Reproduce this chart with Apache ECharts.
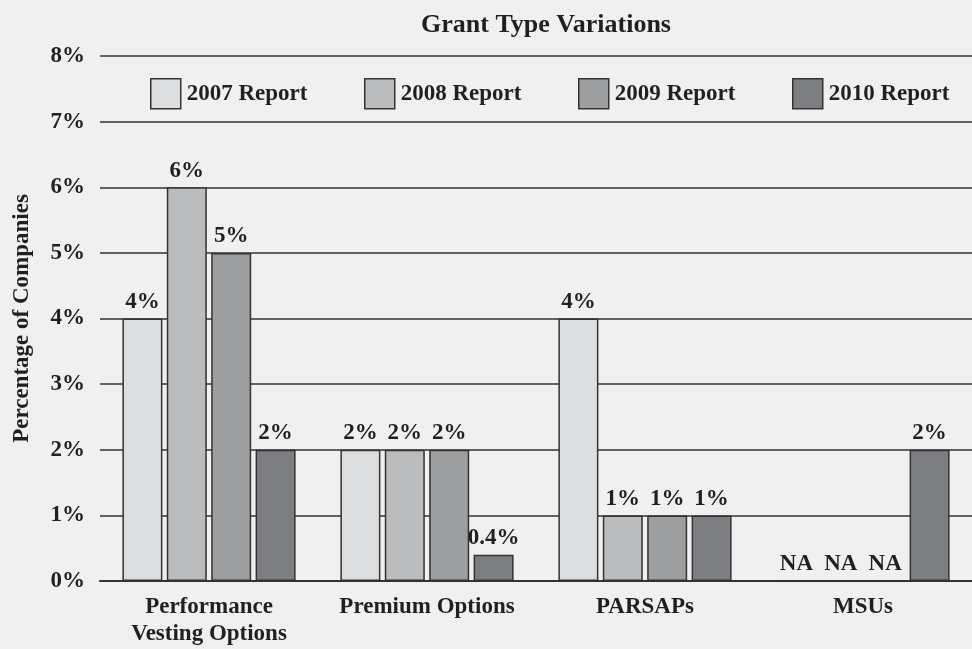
<!DOCTYPE html>
<html>
<head>
<meta charset="utf-8">
<script src="https://cdn.jsdelivr.net/npm/echarts@6/dist/echarts.min.js"></script>
<style>
html, body { margin: 0; padding: 0; background: #f0f0f0; }
#main { width: 972px; height: 649px; }
</style>
</head>
<body>
<div id="main"></div>
<script>
var categories = ['Performance\nVesting Options', 'Premium Options', 'PARSAPs', 'MSUs'];
var seriesNames = ['2007 Report', '2008 Report', '2009 Report', '2010 Report'];
// null = NA
var r2007 = [4, 2, 4, null];
var r2008 = [6, 2, 1, null];
var r2009 = [5, 2, 1, null];
var r2010 = [2, 0.4, 1, 2];
var yTicks = [0, 1, 2, 3, 4, 5, 6, 7, 8];

var colors = ['#dcdddf', '#bbbcbe', '#9d9ea0', '#7d7e81'];
var legendLeft = [145, 359, 573, 787];
var FONT = '"Liberation Serif", "DejaVu Serif", serif';
var TXT = '#231f20';
var FS = 23;

var dom = document.getElementById('main');
var myChart = echarts.init(dom);

function makeSeries(name, values, idx) {
    return {
        name: name,
        type: 'bar',
        barWidth: 40,
        barGap: '11%',
        data: values.map(function (v) {
            return v === null ? { value: 0, na: true } : v;
        }),
        itemStyle: {
            color: colors[idx],
            borderColor: '#333',
            borderWidth: 1.5
        },
        label: {
            show: true,
            position: 'top',
            distance: 5,
            fontFamily: FONT,
            fontWeight: 'bold',
            fontSize: FS,
            color: TXT,
            formatter: function (p) {
                if (p.data && p.data.na) return 'NA';
                return p.value + '%';
            }
        }
    };
}

// one legend per series so each item sits where it does in the original
var legends = seriesNames.map(function (n, i) {
    return {
        data: [n],
        left: legendLeft[i],
        top: 73,
        itemWidth: 30,
        itemHeight: 30,
        icon: 'rect',
        itemStyle: {
            borderColor: '#333',
            borderWidth: 1.5
        },
        textStyle: {
            fontFamily: FONT,
            fontWeight: 'bold',
            fontSize: FS,
            color: TXT,
            padding: [0, 0, 0, 1]
        }
    };
});

var option = {
    backgroundColor: '#f0f0f0',
    animation: false,
    title: {
        text: 'Grant Type Variations',
        left: 541,
        top: 7,
        textAlign: 'center',
        textStyle: {
            fontFamily: FONT,
            fontWeight: 'bold',
            fontSize: 26,
            color: TXT
        }
    },
    legend: legends,
    grid: {
        left: 100,
        right: 0,
        top: 56,
        bottom: 68,
        containLabel: false,
        outerBoundsMode: 'none'
    },
    xAxis: {
        type: 'category',
        data: categories,
        axisTick: { show: false },
        axisLine: { lineStyle: { color: '#333', width: 2 } },
        axisLabel: {
            interval: 0,
            margin: 13,
            fontFamily: FONT,
            fontWeight: 'bold',
            fontSize: FS,
            lineHeight: 27,
            color: TXT
        }
    },
    yAxis: {
        type: 'value',
        min: yTicks[0],
        max: yTicks[yTicks.length - 1],
        interval: 1,
        name: 'Percentage of Companies',
        nameLocation: 'middle',
        nameGap: 66,
        nameTextStyle: {
            fontFamily: FONT,
            fontWeight: 'bold',
            fontSize: FS,
            color: TXT
        },
        axisLine: { show: false },
        axisTick: { show: false },
        splitLine: { lineStyle: { color: '#333', width: 1.5 } },
        axisLabel: {
            margin: 15,
            fontFamily: FONT,
            fontWeight: 'bold',
            fontSize: FS,
            color: TXT,
            formatter: '{value}%'
        }
    },
    series: [
        makeSeries(seriesNames[0], r2007, 0),
        makeSeries(seriesNames[1], r2008, 1),
        makeSeries(seriesNames[2], r2009, 2),
        makeSeries(seriesNames[3], r2010, 3)
    ]
};

if (option && typeof option === 'object') {
    myChart.setOption(option, true);
}
window.onresize = function () {
    myChart.resize();
};
</script>
</body>
</html>
